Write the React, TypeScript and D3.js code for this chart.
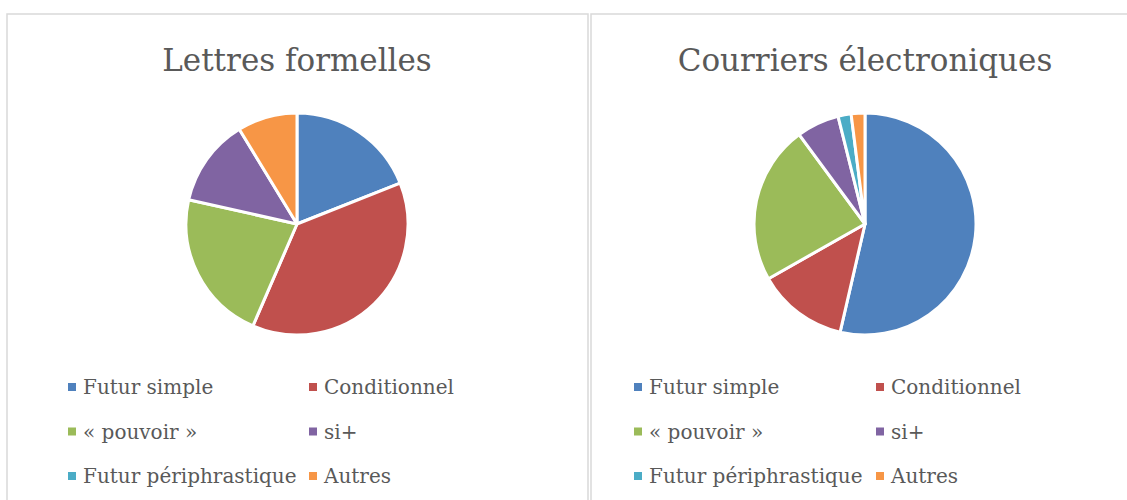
import React from "react";
import * as d3 from "d3";

const categories = ["Futur simple", "Conditionnel", "« pouvoir »", "si+", "Futur périphrastique", "Autres"];
const colors = ["#4F81BD", "#C0504D", "#9BBB59", "#8064A2", "#4BACC6", "#F79646"];
const lettresValues = [19, 37.5, 22, 12.8, 0, 8.7];
const courrielsValues = [53.6, 13.2, 23.1, 6.2, 1.9, 2.0];
const titles = ["Lettres formelles", "Courriers électroniques"];

const FONT = "'DejaVu Serif', 'Liberation Serif', serif";

function Panel({ x0, w, cx, title, values, legendX }: { x0: number; w: number; cx: number; title: string; values: number[]; legendX: [number, number] }) {
  const pie = d3.pie<number>().sort(null).value((d) => d)(values);
  const arc = d3.arc<d3.PieArcDatum<number>>().innerRadius(0).outerRadius(111);
  const cy = 224;
  return (
    <g>
      <rect x={x0} y={14} width={w} height={520} fill="#fff" stroke="#d9d9d9" strokeWidth={1.5} />
      <text x={cx} y={71} textAnchor="middle" fontFamily={FONT} fontSize={31} fill="#595959">
        {title}
      </text>
      <g transform={`translate(${cx},${cy})`}>
        {pie.map((p, i) =>
          p.value > 0 ? <path key={i} d={arc(p) || ""} fill={colors[i]} stroke="#fff" strokeWidth={3} strokeLinejoin="round" /> : null
        )}
      </g>
      {categories.map((c, i) => {
        const col = i % 2;
        const row = Math.floor(i / 2);
        const lx = legendX[col];
        const ly = 387 + row * 44.5;
        return (
          <g key={c}>
            <rect x={lx} y={ly - 4} width={8} height={8} fill={colors[i]} />
            <text x={lx + 15} y={ly + 7} fontFamily={FONT} fontSize={20} fill="#595959">
              {c}
            </text>
          </g>
        );
      })}
    </g>
  );
}

export default function App() {
  return (
    <svg width={1127} height={500} style={{ position: "absolute", left: 0, top: 0, background: "#fff" }}>
      <rect x={0} y={0} width={1127} height={500} fill="#fff" />
      <Panel x0={7} w={581} cx={297} title={titles[0]} values={lettresValues} legendX={[68, 309]} />
      <Panel x0={591} w={560} cx={865} title={titles[1]} values={courrielsValues} legendX={[634, 876]} />
    </svg>
  );
}
